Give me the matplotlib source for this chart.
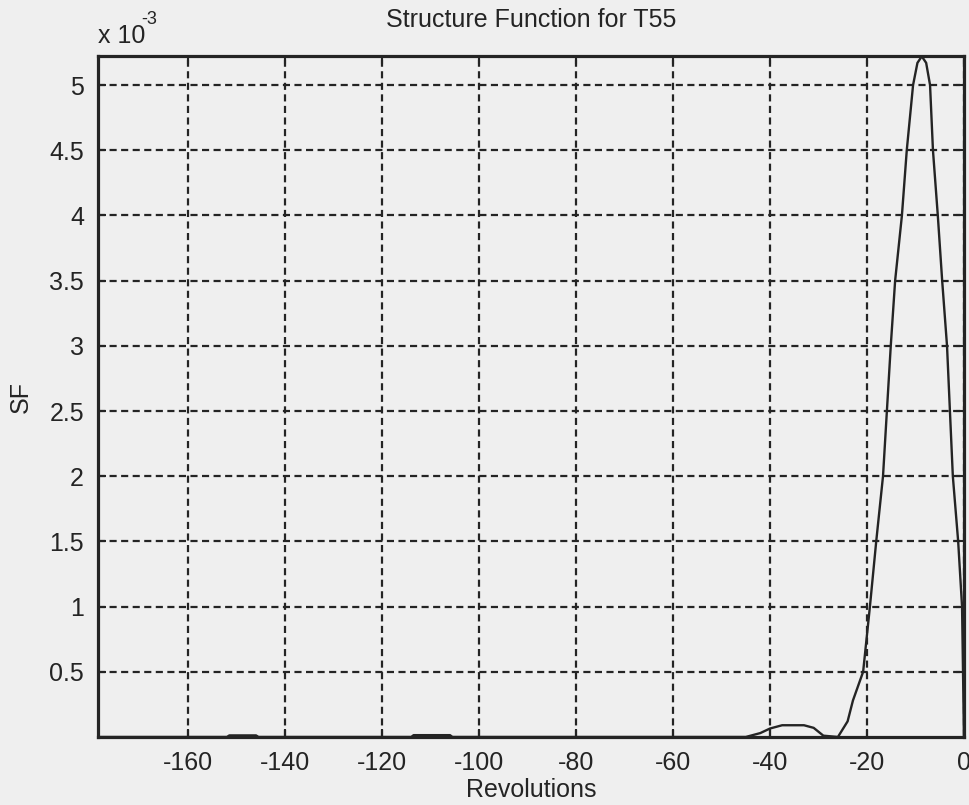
import numpy as np
import matplotlib
matplotlib.use("Agg")
import matplotlib.pyplot as plt

# Structure function of T55 (SF in units of 1e-3) against revolutions
revolutions = [-178.6, -152.0, -151.5, -146.0, -145.5, -114.0, -113.5, -106.0, -105.5,
               -45.0, -42.0, -40.0, -37.5, -33.0, -31.0, -29.0, -26.0, -24.0,
               -22.9, -20.8, -19.4, -18.1, -16.7, -15.9, -15.1, -14.2, -12.8,
               -11.8, -10.5, -9.6, -8.7, -7.8, -7.0, -6.4, -5.4, -4.5, -3.5,
               -2.9, -2.3, -1.2, -0.4, -0.2, 0.0]
sf_milli = [0.0, 0.0, 0.012, 0.012, 0.0, 0.0, 0.014, 0.014, 0.0,
            0.0, 0.03, 0.065, 0.09, 0.09, 0.07, 0.01, 0.0, 0.12,
            0.28, 0.5, 1.0, 1.5, 2.0, 2.5, 3.0, 3.5, 4.0,
            4.5, 5.0, 5.17, 5.22, 5.17, 5.0, 4.5, 4.0, 3.5, 3.0,
            2.5, 2.0, 1.5, 1.0, 0.5, 0.0]

x_ticks = [-160, -140, -120, -100, -80, -60, -40, -20, 0]
y_ticks = [0.5, 1, 1.5, 2, 2.5, 3, 3.5, 4, 4.5, 5]

ink = "#242424"
paper = "#efefef"

plt.rcParams["font.family"] = ["Liberation Sans", "DejaVu Sans"]
plt.rcParams["axes.unicode_minus"] = False

fig = plt.figure(figsize=(9.7, 8.05), dpi=100, facecolor=paper)
ax = fig.add_axes([0.101, 0.0845, 0.8928, 0.8455], facecolor=paper)

ax.plot(revolutions, sf_milli, color=ink, lw=1.7, zorder=3)

ax.set_xlim(-178.6, 0)
ax.set_ylim(0, 5.22)
ax.set_xticks(x_ticks)
ax.set_yticks(y_ticks)
ax.set_xticklabels([str(t) for t in x_ticks])
ax.set_yticklabels([f"{t:g}" for t in y_ticks])

ax.grid(True, color=ink, lw=1.6, linestyle=(0, (3.2, 2.0)))
ax.tick_params(direction="in", length=6, width=1.5, colors=ink,
               top=True, right=True, labelsize=18, pad=10)
for sp in ax.spines.values():
    sp.set_color(ink)
    sp.set_linewidth(2.3)

ax.set_title("Structure Function for T55", fontsize=18, color=ink, pad=21)
ax.set_xlabel("Revolutions", fontsize=18, color=ink, labelpad=2)
ax.set_ylabel("SF", fontsize=18, color=ink, labelpad=12)

# exponent label above the y axis: "x 10" with a raised "-3"
ax.text(0.0, 1.012, "x 10", transform=ax.transAxes, fontsize=18,
        color=ink, ha="left", va="bottom")
ax.text(0.05, 1.042, "-3", transform=ax.transAxes, fontsize=13,
        color=ink, ha="left", va="bottom")

fig.savefig("out.png", dpi=100, facecolor=paper)
